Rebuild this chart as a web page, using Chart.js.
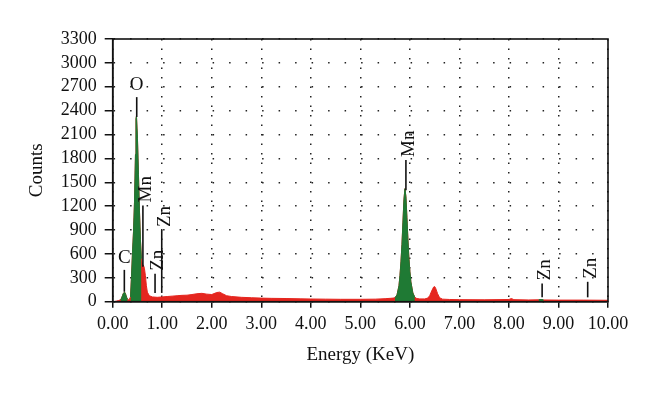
<!DOCTYPE html>
<html>
<head>
<meta charset="utf-8">
<script src="https://cdn.jsdelivr.net/npm/chart.js@4.4.1/dist/chart.umd.min.js"></script>
<style>
  html, body { margin: 0; padding: 0; background: #ffffff; }
  #wrap { width: 660px; height: 396px; }
</style>
</head>
<body>
<div id="wrap"><canvas id="c" width="660" height="396"></canvas></div>
<script>
// ---- Data ----
const energy = [
  0.00,0.04,0.08,0.12,0.16,0.18,0.20,0.22,0.24,0.26,
  0.28,0.30,0.32,0.34,0.36,0.38,0.40,0.42,0.44,0.46,
  0.47,0.48,0.50,0.52,0.54,0.56,0.58,0.60,0.62,0.64,
  0.66,0.68,0.70,0.74,0.80,0.90,1.00,1.10,1.20,1.30,
  1.40,1.50,1.60,1.70,1.80,1.90,2.00,2.10,2.16,2.22,
  2.30,2.40,2.60,2.80,3.00,3.20,3.50,3.80,4.00,4.30,
  4.60,5.00,5.30,5.50,5.60,5.66,5.70,5.74,5.78,5.80,
  5.82,5.84,5.86,5.88,5.90,5.92,5.94,5.96,5.98,6.00,
  6.02,6.06,6.10,6.14,6.20,6.30,6.36,6.40,6.44,6.48,
  6.50,6.52,6.56,6.60,6.66,6.80,7.00,7.50,8.00,8.05,
  8.10,8.40,8.60,8.65,8.70,9.00,9.50,10.00
];
// total spectrum (red)
const totalCounts = [
  0,3,8,15,25,45,80,110,120,95,
  55,30,25,35,60,320,620,880,1250,1850,
  2300,2330,2050,1600,1150,780,540,470,460,420,
  330,200,120,75,60,55,60,65,70,75,
  80,82,90,100,105,95,90,115,120,100,
  75,65,55,50,45,42,40,36,34,32,
  30,30,32,38,42,45,50,85,200,330,
  500,720,1000,1280,1420,1320,1060,790,550,380,
  250,110,55,40,35,35,45,75,135,185,
  190,170,100,50,32,28,26,24,28,40,
  26,22,24,28,22,20,20,18
];
// identified peaks (green), null = not part of a peak
const n = null;
const peakCounts = [
  n,n,n,n,25,45,80,110,120,95,
  55,30,n,n,60,320,620,880,1250,1850,
  2300,2330,2050,1600,1150,780,540,n,n,n,
  n,n,n,n,n,n,n,n,n,n,
  n,n,n,n,n,n,n,n,n,n,
  n,n,n,n,n,n,n,n,n,n,
  n,n,n,n,n,n,50,85,200,330,
  500,720,1000,1280,1420,1320,1060,790,550,380,
  250,110,55,n,n,n,n,n,n,n,
  n,n,n,n,n,n,n,n,n,n,
  n,n,24,28,22,n,n,n
];
// element markers
const markerLabels = ['C','O','Mn','Zn','Zn','Mn','Zn','Zn'];
const markerEnergy = [0.235,0.485,0.61,0.855,0.99,5.92,8.67,9.59];
const markerLow    = [125,2320,440,110,110,1400,55,55];
const markerHigh   = [400,2570,1210,350,900,1780,230,250];

const xTitle = 'Energy (KeV)';
const yTitle = 'Counts';
const xMin = 0, xMax = 10, xStep = 1;
const yMin = 0, yMax = 3300, yStep = 300;

// ---- Chart ----
const FONT = "'Liberation Serif', 'DejaVu Serif', serif";
const toXY = (arr) => energy.map((e, i) => ({ x: e, y: arr[i] }));

const markerPlugin = {
  id: 'markers',
  afterDatasetsDraw(chart) {
    const ctx = chart.ctx, xs = chart.scales.x, ys = chart.scales.y;
    ctx.save();
    ctx.strokeStyle = '#111';
    ctx.lineWidth = 1.6;
    ctx.fillStyle = '#111';
    ctx.font = '19px ' + FONT;
    markerLabels.forEach((lab, i) => {
      const x = xs.getPixelForValue(markerEnergy[i]);
      const y0 = ys.getPixelForValue(markerLow[i]);
      const y1 = ys.getPixelForValue(markerHigh[i]);
      ctx.beginPath();
      ctx.moveTo(x, y0);
      ctx.lineTo(x, y1);
      ctx.stroke();
      if (lab.length === 1) {
        ctx.textAlign = 'center';
        ctx.textBaseline = 'alphabetic';
        ctx.fillText(lab, x, y1 - 7);
      } else {
        ctx.save();
        ctx.translate(x + 3, y1 - 3);
        ctx.rotate(-Math.PI / 2);
        ctx.textAlign = 'left';
        ctx.textBaseline = 'middle';
        ctx.fillText(lab, 0, 0);
        ctx.restore();
      }
    });
    ctx.restore();
  },
  afterDraw(chart) {
    const a = chart.chartArea, ctx = chart.ctx;
    ctx.save();
    ctx.strokeStyle = '#111';
    ctx.lineWidth = 1.6;
    ctx.strokeRect(a.left, a.top, a.right - a.left, a.bottom - a.top);
    ctx.restore();
  }
};

new Chart(document.getElementById('c'), {
  type: 'line',
  data: {
    datasets: [
      {
        label: 'peaks',
        data: toXY(peakCounts),
        borderColor: '#1f7a34',
        backgroundColor: '#1f7a34',
        borderWidth: 1,
        pointRadius: 0,
        fill: 'origin',
        spanGaps: false,
        tension: 0,
        order: 0
      },
      {
        label: 'spectrum',
        data: toXY(totalCounts),
        borderColor: '#e5261f',
        backgroundColor: '#e5261f',
        borderWidth: 1,
        pointRadius: 0,
        fill: 'origin',
        tension: 0,
        order: 1
      }
    ]
  },
  options: {
    responsive: false,
    animation: false,
    events: [],
    layout: { padding: { left: 0, right: 52, top: 39, bottom: 0 } },
    plugins: { legend: { display: false }, tooltip: { enabled: false } },
    scales: {
      x: {
        type: 'linear',
        min: xMin, max: xMax,
        afterFit: (s) => { s.height = 94.3; },
        ticks: {
          stepSize: xStep,
          autoSkip: false,
          color: '#111',
          font: { family: FONT, size: 18 },
          padding: 6,
          maxRotation: 0,
          callback: (v) => Number(v).toFixed(2)
        },
        grid: {
          color: '#222',
          lineWidth: 1.5,
          tickLength: 6,
          tickColor: '#111',
          tickWidth: 1.5,
          tickBorderDash: []
        },
        border: { display: true, color: '#111', width: 1.6, dash: [1.5, 8] },
        title: {
          display: true, text: xTitle, color: '#111',
          font: { family: FONT, size: 19 },
          padding: { top: 0, bottom: 30 }
        }
      },
      y: {
        min: yMin, max: yMax,
        afterFit: (s) => { s.width = 112.7; },
        ticks: {
          stepSize: yStep,
          autoSkip: false,
          color: '#111',
          font: { family: FONT, size: 18 },
          padding: 8,
          callback: (v) => String(v)
        },
        grid: {
          color: '#222',
          lineWidth: 1.5,
          tickLength: 8,
          tickColor: '#111',
          tickWidth: 1.5,
          tickBorderDash: []
        },
        border: { display: true, color: '#111', width: 1.6, dash: [1.5, 15] },
        title: {
          display: true, text: yTitle, color: '#111',
          font: { family: FONT, size: 19 },
          padding: { top: 26, bottom: 0 }
        }
      }
    }
  },
  plugins: [markerPlugin]
});
</script>
</body>
</html>
